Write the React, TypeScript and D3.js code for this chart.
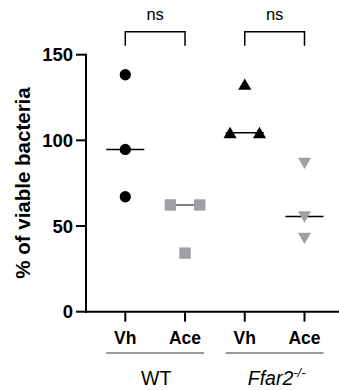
import React from "react";
import * as d3 from "d3";

const categories = ["WT Vh", "WT Ace", "Ffar2 Vh", "Ffar2 Ace"];
const tickLabels = ["Vh", "Ace", "Vh", "Ace"];
const wtVh = [138.3, 94.7, 67.1];
const wtAce = [62.3, 62.3, 34.2];
const ffarVh = [132.6, 104.4, 104.4];
const ffarAce = [86.8, 55.5, 43.0];
const jitterWtVh = [0, 0, 0];
const jitterWtAce = [-1, 1, 0];
const jitterFfarVh = [0, -1, 1];
const jitterFfarAce = [0, 0, 0];
const medians = [94.7, 62.3, 104.4, 55.5];
const yTicks = [0, 50, 100, 150];
const groups = [
  { name: "WT", first: 0, last: 1 },
  { name: "Ffar2", first: 2, last: 3 },
];
const comparisons = [
  [0, 1, "ns"],
  [2, 3, "ns"],
];

const W = 339;
const H = 390;
const FONT = "'Liberation Sans', Arial, Helvetica, sans-serif";

export default function App() {
  const y = d3.scaleLinear().domain([0, 150]).range([311.7, 54.7]);
  const x = d3.scalePoint<string>().domain(categories).range([125.3, 304.5]);
  const jit = d3.scaleLinear().domain([-1, 1]).range([-14.7, 14.7]);
  const axisX = 86;
  const y0 = y(0);

  const series = [
    { vals: wtVh, jit: jitterWtVh, shape: "circle", color: "#000", medColor: "#000" },
    { vals: wtAce, jit: jitterWtAce, shape: "square", color: "#a0a0a4", medColor: "#555" },
    { vals: ffarVh, jit: jitterFfarVh, shape: "triangle", color: "#000", medColor: "#000" },
    { vals: ffarAce, jit: jitterFfarAce, shape: "tridown", color: "#a0a0a4", medColor: "#000" },
  ];

  const sym = (shape: string) => {
    if (shape === "circle") return d3.symbol(d3.symbolCircle, 100)();
    if (shape === "square") return d3.symbol(d3.symbolSquare, 130)();
    return d3.symbol(d3.symbolTriangle, 75)();
  };

  return (
    <svg
      width={W}
      height={H}
      style={{ position: "absolute", left: 0, top: 0, background: "#fff" }}
      fontFamily={FONT}
    >
      {/* Y axis */}
      <line x1={axisX} x2={axisX} y1={y(150) - 1} y2={y0 + 1} stroke="#000" strokeWidth={2} />
      {yTicks.map((t) => (
        <g key={t}>
          <line x1={axisX - 10} x2={axisX} y1={y(t)} y2={y(t)} stroke="#000" strokeWidth={2} />
          <text
            x={axisX - 13}
            y={y(t)}
            dy="0.36em"
            textAnchor="end"
            fontWeight="bold"
            fontSize={18.5}
          >
            {t}
          </text>
        </g>
      ))}
      <text
        transform={`translate(30,183) rotate(-90)`}
        textAnchor="middle"
        fontWeight="bold"
        fontSize={20.5}
      >
        % of viable bacteria
      </text>

      {/* X axis */}
      <line x1={axisX - 1} x2={W} y1={y0} y2={y0} stroke="#000" strokeWidth={2} />
      {categories.map((c, i) => (
        <g key={c}>
          <line x1={x(c)} x2={x(c)} y1={y0} y2={y0 + 10} stroke="#000" strokeWidth={2} />
          <text x={x(c)} y={343.5} textAnchor="middle" fontWeight="bold" fontSize={17.5}>
            {tickLabels[i]}
          </text>
        </g>
      ))}

      {/* group lines */}
      {groups.map((g) => {
        const cx = ((x(categories[g.first]) as number) + (x(categories[g.last]) as number)) / 2;
        return (
          <g key={g.name}>
            <line x1={cx - 49} x2={cx + 49} y1={353} y2={353} stroke="#7a7a7a" strokeWidth={1.5} />
            {g.name === "WT" ? (
              <text x={cx + 1} y={384.5} textAnchor="middle" fontSize={19.5}>
                WT
              </text>
            ) : (
              <text x={cx + 2} y={384.5} textAnchor="middle" fontSize={19.5} fontStyle="italic">
                Ffar2
                <tspan fontSize={13} dy={-8}>
                  -/-
                </tspan>
              </text>
            )}
          </g>
        );
      })}

      {/* median lines */}
      {categories.map((c, i) => (
        <line
          key={"m" + c}
          x1={(x(c) as number) - 19}
          x2={(x(c) as number) + 19}
          y1={y(medians[i])}
          y2={y(medians[i])}
          stroke={series[i].medColor}
          strokeWidth={1.5}
        />
      ))}

      {/* points */}
      {series.map((s, i) =>
        s.vals.map((v, j) => {
          const cx = (x(categories[i]) as number) + jit(s.jit[j]);
          const cy = y(v);
          const rot = s.shape === "tridown" ? 180 : 0;
          const dyShift = s.shape === "triangle" ? 1.5 : s.shape === "tridown" ? -1.5 : 0;
          return (
            <path
              key={i + "-" + j}
              d={sym(s.shape) as string}
              transform={`translate(${cx},${cy + dyShift}) rotate(${rot})`}
              fill={s.color}
            />
          );
        })
      )}

      {/* significance brackets */}
      {comparisons.map(([a, b, label], k) => {
        const xa = x(categories[a as number]) as number;
        const xb = x(categories[b as number]) as number;
        return (
          <g key={"c" + k}>
            <path
              d={`M${xa},45.7 V31.7 H${xb} V45.7`}
              fill="none"
              stroke="#000"
              strokeWidth={1.5}
            />
            <text x={(xa + xb) / 2} y={20} textAnchor="middle" fontSize={16.5}>
              {label}
            </text>
          </g>
        );
      })}
    </svg>
  );
}
